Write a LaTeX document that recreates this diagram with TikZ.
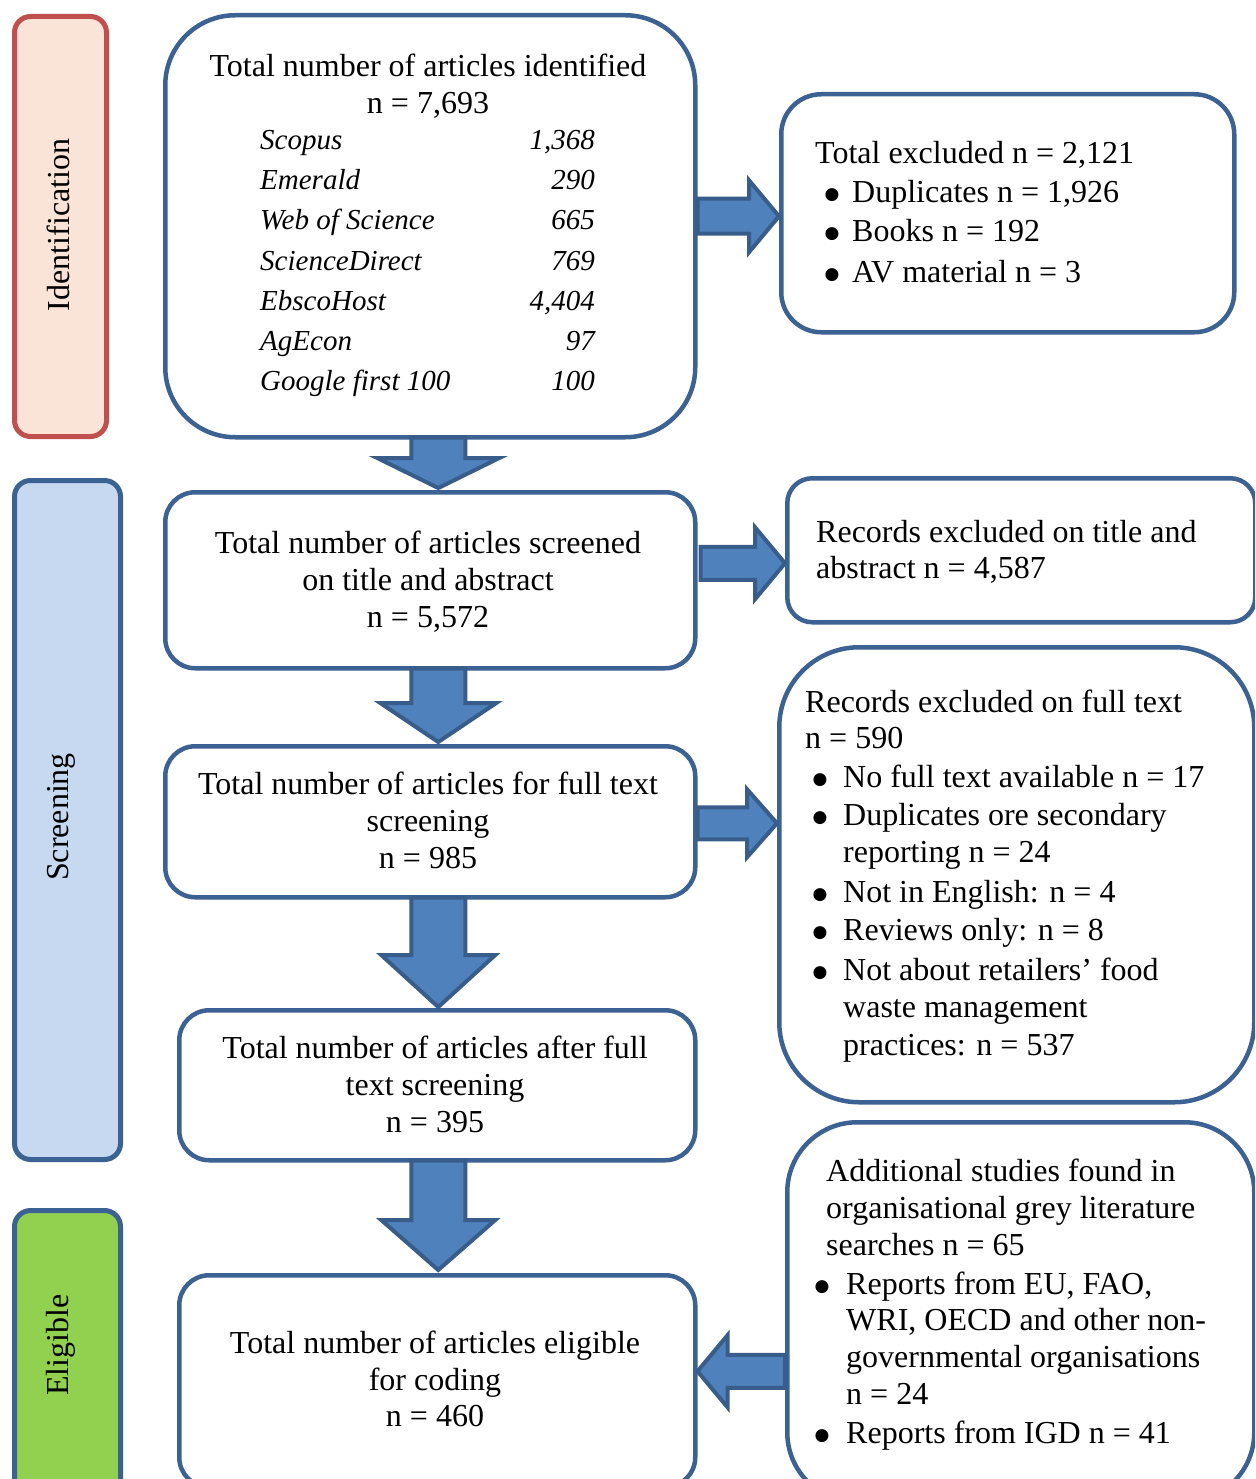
\documentclass[tikz,border=0pt]{standalone}
\usepackage{fontspec}
\setmainfont{Liberation Serif}
\newfontfamily\bulfont{DejaVu Sans}
\usetikzlibrary{calc}
\definecolor{bord}{HTML}{3C6193}
\definecolor{redbord}{HTML}{C0504D}
\definecolor{idfill}{HTML}{FAE4D7}
\definecolor{scfill}{HTML}{C6D9F1}
\definecolor{elfill}{HTML}{92D050}
\definecolor{arrfill}{HTML}{4F81BD}
\definecolor{arrbord}{HTML}{385D8A}
\newcommand\vblock[5]{% from, to, head length, shaft half, head half
  \draw[blockarrow] let \p1=(#1), \p2=(#2) in
  ({\x1-#4},{\y1}) -- ({\x1-#4},{\y2+#3}) -- ({\x1-#5},{\y2+#3}) -- ({\x1},{\y2}) --
  ({\x1+#5},{\y2+#3}) -- ({\x1+#4},{\y2+#3}) -- ({\x1+#4},{\y1}) -- cycle;}
\newcommand\hblock[5]{% from, to, signed head length, shaft half, head half
  \draw[blockarrow] let \p1=(#1), \p2=(#2) in
  ({\x1},{\y1-#4}) -- ({\x2-(#3)},{\y1-#4}) -- ({\x2-(#3)},{\y1-#5}) -- ({\x2},{\y1}) --
  ({\x2-(#3)},{\y1+#5}) -- ({\x2-(#3)},{\y1+#4}) -- ({\x1},{\y1+#4}) -- cycle;}
\begin{document}
\begin{tikzpicture}[x=1pt,y=-1pt,
  mainbox/.style={draw=bord, line width=4.5pt, fill=white, inner sep=0pt, anchor=north west},
  sidebox/.style={draw=bord, line width=5pt, inner sep=0pt, anchor=north west, rounded corners=16pt},
  txt/.style={font=\fontsize{32}{37}\selectfont, inner sep=0pt, anchor=base west},
  txtc/.style={txt, anchor=base},
  itl/.style={font=\fontsize{29}{36}\selectfont\itshape, inner sep=0pt, anchor=base west},
  itr/.style={itl, anchor=base east},
  bul/.style={font=\bulfont\fontsize{17}{20}\selectfont, inner sep=0pt, anchor=base, yshift=3pt},
  side/.style={font=\fontsize{32}{37}\selectfont, inner sep=0pt, rotate=90},
  blockarrow/.style={draw=arrbord, fill=arrfill, line width=4pt, line join=miter}]
\clip (0,0) rectangle (1255,1479);
\fill[white] (0,0) rectangle (1255,1479);

% side bars
\node[sidebox, draw=redbord, fill=idfill, minimum width=92, minimum height=420] (s1) at (12,14) {};
\node[sidebox, fill=scfill, minimum width=106, minimum height=679] (s2) at (12,478) {};
\node[sidebox, fill=elfill, minimum width=106, minimum height=290] (s3) at (12,1208) {};
\node[side] (s1t) at (58,225) {Identification};
\node[side] (s2t) at (61,817) {Screening};
\node[side] (s3t) at (61,1345) {Eligible};

% main boxes
\node[mainbox, minimum width=530, minimum height=422, rounded corners=70pt] (b1) at (163,13) {};
\node[mainbox, minimum width=453, minimum height=238, rounded corners=40pt] (r1) at (779,92) {};
\node[mainbox, minimum width=530, minimum height=176, rounded corners=30pt] (b2) at (163,490) {};
\node[mainbox, minimum width=468, minimum height=144, rounded corners=25pt] (r2) at (785,476) {};
\node[mainbox, minimum width=530, minimum height=151, rounded corners=30pt] (b3) at (163,744) {};
\node[mainbox, minimum width=475, minimum height=455, rounded corners=80pt] (r3) at (777,645) {};
\node[mainbox, minimum width=516, minimum height=150, rounded corners=30pt] (b4) at (177,1008) {};
\node[mainbox, minimum width=467, minimum height=380, rounded corners=70pt] (r4) at (785,1120) {};
\node[mainbox, minimum width=516, minimum height=212, rounded corners=30pt] (b5) at (177,1273) {};

% arrows
\vblock{$(b1.south)+(8,-2)$}{$(b2.north)+(8,-2)$}{30pt}{27pt}{61pt}
\vblock{$(b2.south)+(8,-2)$}{$(b3.north)+(8,-2)$}{39pt}{27pt}{58pt}
\vblock{$(b3.south)+(8,-2)$}{$(b4.north)+(1,-1)$}{52pt}{27pt}{57pt}
\vblock{$(b4.south)+(1,-2)$}{$(b5.north)+(1,-3)$}{50pt}{27pt}{57pt}
\hblock{$(b1.east)+(0,-10)$}{r1.west}{30pt}{17.5pt}{36pt}
\hblock{$(b2.east)+(3,-17)$}{r2.west}{30pt}{16.5pt}{36pt}
\hblock{$(b3.east)+(0,1.5)$}{r3.west}{30pt}{16pt}{34pt}
\hblock{$(r4.west)+(0,59)$}{b5.east}{-30pt}{16.5pt}{36pt}

% B1 text
\node[txtc] (b1a) at (428,77) {Total number of articles identified};
\node[txtc] (b1b) at (428,114) {n = 7,693};
\node[itl] (l1) at (260,150) {Scopus};
\node[itl] (l2) at (260,190) {Emerald};
\node[itl] (l3) at (260,230) {Web of Science};
\node[itl] (l4) at (260,270) {ScienceDirect};
\node[itl] (l5) at (260,310) {EbscoHost};
\node[itl] (l6) at (260,350) {AgEcon};
\node[itl] (l7) at (260,390) {Google first 100};
\node[itr] (n1) at (595,150) {1,368};
\node[itr] (n2) at (595,190) {290};
\node[itr] (n3) at (595,230) {665};
\node[itr] (n4) at (595,270) {769};
\node[itr] (n5) at (595,310) {4,404};
\node[itr] (n6) at (595,350) {97};
\node[itr] (n7) at (595,390) {100};

% R1 text
\node[txt] (r1a) at (815,164) {Total excluded n = 2,121};
\node[bul] (r1b1) at (832,203) {●};
\node[txt] (r1b) at (852,203) {Duplicates n = 1,926};
\node[bul] (r1c1) at (832,242) {●};
\node[txt] (r1c) at (852,242) {Books n = 192};
\node[bul] (r1d1) at (832,282) {●};
\node[txt] (r1d) at (852,282) {AV material n = 3};

% B2 text
\node[txtc] (b2a) at (428,553) {Total number of articles screened};
\node[txtc] (b2b) at (428,590) {on title and abstract};
\node[txtc] (b2c) at (428,627) {n = 5,572};

% R2 text
\node[txt] (r2a) at (816,542) {Records excluded on title and};
\node[txt] (r2b) at (816,578) {abstract n = 4,587};

% B3 text
\node[txtc] (b3a) at (428,794) {Total number of articles for full text};
\node[txtc] (b3b) at (428,831) {screening};
\node[txtc] (b3c) at (428,868) {n = 985};

% R3 text
\node[txt] (r3a) at (805,712) {Records excluded on full text};
\node[txt] (r3b) at (805,748) {n = 590};
\node[bul] (r3c1) at (820,787) {●};
\node[txt] (r3c) at (843,787) {No full text available n = 17};
\node[bul] (r3d1) at (820,825) {●};
\node[txt] (r3d) at (843,825) {Duplicates ore secondary};
\node[txt] (r3e) at (843,862) {reporting n = 24};
\node[bul] (r3f1) at (820,902) {●};
\node[txt] (r3f) at (843,902) {Not in English: n = 4};
\node[bul] (r3g1) at (820,940) {●};
\node[txt] (r3g) at (843,940) {Reviews only: n = 8};
\node[bul] (r3h1) at (820,980) {●};
\node[txt] (r3h) at (843,980) {Not about retailers’ food};
\node[txt] (r3i) at (843,1017) {waste management};
\node[txt] (r3j) at (843,1055) {practices: n = 537};

% B4 text
\node[txtc] (b4a) at (435,1058) {Total number of articles after full};
\node[txtc] (b4b) at (435,1095) {text screening};
\node[txtc] (b4c) at (435,1132) {n = 395};

% R4 text
\node[txt] (r4a) at (826,1181) {Additional studies found in};
\node[txt] (r4b) at (826,1218) {organisational grey literature};
\node[txt] (r4c) at (826,1255) {searches n = 65};
\node[bul] (r4d1) at (822,1294) {●};
\node[txt] (r4d) at (846,1294) {Reports from EU, FAO,};
\node[txt] (r4e) at (846,1330) {WRI, OECD and other non-};
\node[txt] (r4f) at (846,1367) {governmental organisations};
\node[txt] (r4g) at (846,1404) {n = 24};
\node[bul] (r4h1) at (822,1443) {●};
\node[txt] (r4h) at (846,1443) {Reports from IGD n = 41};

% B5 text
\node[txtc] (b5a) at (435,1353) {Total number of articles eligible};
\node[txtc] (b5b) at (435,1390) {for coding};
\node[txtc] (b5c) at (435,1426) {n = 460};
\end{tikzpicture}
\end{document}
